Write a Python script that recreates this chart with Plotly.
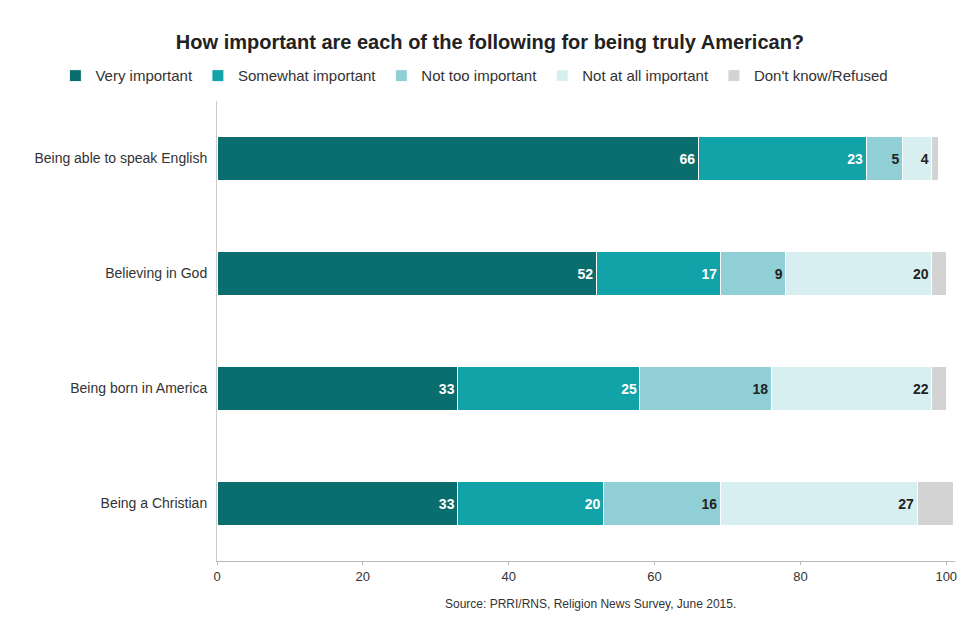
import plotly.graph_objects as go

categories = ["Being able to speak English", "Believing in God", "Being born in America", "Being a Christian"]
series_names = ["Very important", "Somewhat important", "Not too important", "Not at all important", "Don't know/Refused"]
very_important = [66, 52, 33, 33]
somewhat_important = [23, 17, 25, 20]
not_too_important = [5, 9, 18, 16]
not_at_all_important = [4, 20, 22, 27]
dont_know = [1, 2, 2, 5]
x_ticks = [0, 20, 40, 60, 80, 100]

series_values = [very_important, somewhat_important, not_too_important, not_at_all_important, dont_know]
colors = ["#0B6E6E", "#12A3A8", "#8FCFD5", "#D8EFF1", "#D3D3D3"]
text_colors = ["white", "white", "#222222", "#222222", "#222222"]
show_text = [True, True, True, True, False]

FONT = "Liberation Sans"

fig = go.Figure()
for name, vals, col, tcol, st in zip(series_names, series_values, colors, text_colors, show_text):
    fig.add_trace(go.Bar(
        name=name, y=categories, x=vals, orientation="h",
        marker=dict(color=col, line=dict(color="white", width=1)),
        text=[str(v) for v in vals] if st else None,
        textposition="inside" if st else "none",
        insidetextanchor="end",
        textfont=dict(family=FONT, size=14, color=tcol, weight="bold"),
        width=0.383,
        hoverinfo="skip",
    ))

fig.update_layout(
    barmode="stack",
    width=980, height=626,
    paper_bgcolor="white", plot_bgcolor="white",
    margin=dict(l=209, r=33, t=93, b=73, autoexpand=False),
    font=dict(family=FONT, color="#333333"),
    title=dict(text="<b>How important are each of the following for being truly American?</b>",
               x=0.4918, xref="container", xanchor="center", y=0.9457, yref="container", yanchor="middle",
               font=dict(family=FONT, size=20, color="#222222")),
    legend=dict(orientation="h", x=-0.219, xref="paper", xanchor="left",
                y=1.0546, yref="paper", yanchor="middle",
                font=dict(family=FONT, size=15, color="#333333"),
                traceorder="normal", itemwidth=30),
    uniformtext=dict(mode="show", minsize=13),
)
fig.update_xaxes(range=[0, 101.2], tickvals=x_ticks, showgrid=False, zeroline=False,
                 showline=True, linecolor="#BBBBBB", linewidth=1,
                 ticks="outside", ticklen=3, tickcolor="#BBBBBB",
                 tickfont=dict(family=FONT, size=13, color="#333333"))
fig.update_yaxes(categoryorder="array", categoryarray=categories, range=[3.5, -0.5],
                 showgrid=False, zeroline=False, showline=True, linecolor="#CCCCCC", linewidth=1,
                 ticks="outside", ticklen=6, tickcolor="rgba(0,0,0,0)",
                 tickfont=dict(family=FONT, size=14, color="#333333"))
fig.add_annotation(text="Source: PRRI/RNS, Religion News Survey, June 2015.",
                   xref="paper", yref="paper", x=0.506, y=-0.094, xanchor="center", yanchor="middle",
                   showarrow=False, font=dict(family=FONT, size=12, color="#333333"))
fig.write_html("out.html")
